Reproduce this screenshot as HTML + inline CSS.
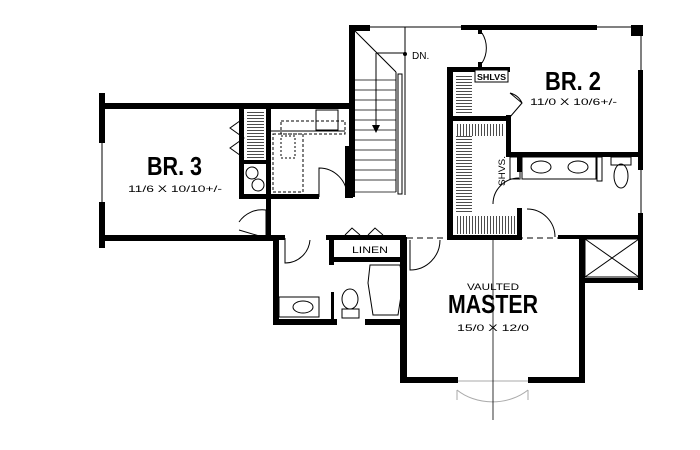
<!DOCTYPE html>
<html><head><style>html,body{margin:0;padding:0;background:#fff;}svg{display:block}</style></head>
<body>
<svg width="700" height="450" viewBox="0 0 700 450" xmlns="http://www.w3.org/2000/svg" font-family="Liberation Sans, sans-serif">
<defs>
<pattern id="hh" width="4" height="3" patternUnits="userSpaceOnUse"><line x1="0" y1="1.5" x2="4" y2="1.5" stroke="#000" stroke-width="0.7"/></pattern>
<pattern id="hv" width="3" height="4" patternUnits="userSpaceOnUse"><line x1="1.5" y1="0" x2="1.5" y2="4" stroke="#000" stroke-width="0.7"/></pattern>
</defs>
<!-- closet hatching -->
<rect x="247" y="112" width="17" height="47" fill="url(#hh)"/>
<rect x="456" y="75" width="16" height="40" fill="url(#hh)"/>
<rect x="456" y="124" width="48" height="12" fill="url(#hv)"/>
<rect x="456" y="136" width="16" height="78" fill="url(#hh)"/>
<rect x="456" y="216" width="60" height="18" fill="url(#hv)"/>
<g fill="#000">
<!-- BR3 -->
<rect x="99" y="93" width="6" height="50"/>
<rect x="99" y="202" width="6" height="46"/>
<rect x="99" y="103" width="256" height="6"/>
<rect x="99" y="235" width="175" height="6"/>
<!-- closet / laundry -->
<rect x="239" y="109" width="5" height="90"/>
<rect x="266" y="109" width="5" height="131"/>
<rect x="239" y="160" width="30" height="4"/>
<rect x="239" y="194" width="80" height="5"/>
<rect x="345" y="146" width="8" height="52"/>
<!-- stair -->
<rect x="349" y="25" width="6" height="172"/>
<rect x="349" y="25" width="21" height="6"/>
<!-- top right -->
<rect x="461" y="25" width="136" height="5"/>
<rect x="631" y="25" width="12" height="11"/>
<rect x="638" y="70" width="5" height="100"/>
<rect x="638" y="213" width="5" height="77"/>
<rect x="478" y="30" width="4" height="4"/>
<rect x="478" y="62" width="4" height="6"/>
<!-- closet BR2 -->
<rect x="447" y="67" width="6" height="173"/>
<rect x="447" y="67" width="63" height="5"/>
<rect x="447" y="116" width="63" height="5"/>
<rect x="506" y="115" width="5" height="42"/>
<rect x="506" y="152" width="137" height="5"/>
<rect x="517" y="155" width="5" height="17"/>
<rect x="517" y="208" width="5" height="32"/>
<rect x="447" y="235" width="75" height="5"/>
<rect x="558" y="235" width="82" height="4"/>
<!-- master -->
<rect x="400" y="237" width="7" height="146"/>
<rect x="400" y="377" width="58" height="6"/>
<rect x="528" y="377" width="57" height="6"/>
<rect x="579" y="237" width="6" height="146"/>
<rect x="585" y="278" width="58" height="5"/>
<!-- hall bath -->
<rect x="273" y="235" width="6" height="90"/>
<rect x="273" y="235" width="12" height="5"/>
<rect x="326" y="235" width="80" height="5"/>
<rect x="329" y="235" width="5" height="30"/>
<rect x="329" y="257" width="76" height="5"/>
<rect x="273" y="319" width="64" height="6"/>
<rect x="365" y="319" width="41" height="6"/>
<rect x="331" y="292" width="3" height="28"/>
</g>
<g fill="none" stroke="#000" stroke-width="1">
<line x1="102" y1="143" x2="102" y2="202"/>
<line x1="370" y1="27" x2="640" y2="27"/>
<line x1="641" y1="36" x2="641" y2="70"/>
<line x1="641" y1="170" x2="641" y2="213"/>
<line x1="458" y1="381" x2="528" y2="381" stroke="#aaa"/>
<line x1="355" y1="31" x2="396" y2="72"/>
<line x1="376" y1="53" x2="405" y2="53"/>
<line x1="405" y1="27" x2="405" y2="195"/>
<line x1="396" y1="72" x2="396" y2="192"/>
<line x1="376" y1="53" x2="376" y2="130"/>
<g stroke-width="0.8">
<line x1="355" y1="80" x2="396" y2="80"/><line x1="355" y1="90" x2="396" y2="90"/>
<line x1="355" y1="100" x2="396" y2="100"/><line x1="355" y1="110" x2="396" y2="110"/>
<line x1="355" y1="120" x2="396" y2="120"/><line x1="355" y1="130" x2="396" y2="130"/>
<line x1="355" y1="140" x2="396" y2="140"/><line x1="355" y1="150" x2="396" y2="150"/>
<line x1="355" y1="160" x2="396" y2="160"/><line x1="355" y1="170" x2="396" y2="170"/>
<line x1="355" y1="180" x2="396" y2="180"/><line x1="355" y1="192" x2="396" y2="192"/>
</g>
<rect x="398" y="74" width="4" height="120"/>
<rect x="281" y="121" width="64" height="13" stroke-dasharray="3,2"/>
<rect x="316" y="110" width="22" height="20"/>
<rect x="273" y="134" width="30" height="58" stroke-dasharray="3,2"/>
<rect x="281" y="136" width="14" height="22" stroke-dasharray="2,2"/>
<line x1="271" y1="131" x2="345" y2="131"/>
<circle cx="252" cy="173" r="6"/><circle cx="258" cy="185" r="6"/>
<path d="M244 118 L230 128 L244 138 L230 148 L244 158"/>
<path d="M319 197 L319 168 A28 28 0 0 1 347 196"/>
<path d="M266 210 A28 28 0 0 0 239 222 M266 210 L266 238 L239 230"/>
<path d="M285 238 L285 263 A25 25 0 0 0 310 240"/>
<path d="M345 235 L352 228 L360 235 M368 235 L375 228 L383 235"/>
<path d="M410 240 L410 270 A30 30 0 0 0 440 240"/>
<path d="M482 33 A28 28 0 0 1 482 63"/>
<path d="M510 93 L522 103 L510 117 M510 93 A18 18 0 0 1 522 103"/>
<path d="M493 204 A26 26 0 0 1 519 178"/>
<path d="M527 209 A28 28 0 0 1 555 237"/>
<path d="M457 390 A50 40 0 0 0 528 390" stroke="#aaa"/>
<line x1="457" y1="390" x2="457" y2="400" stroke="#aaa"/>
<line x1="528" y1="390" x2="528" y2="400" stroke="#aaa"/>
<line x1="493" y1="240" x2="493" y2="420" stroke-width="0.8"/>
<line x1="407" y1="238" x2="580" y2="238" stroke-dasharray="6,4"/>
<rect x="475" y="70" width="33" height="12" fill="#fff"/>
<rect x="510" y="157" width="10" height="22"/>
<rect x="522" y="157" width="74" height="22"/>
<rect x="597" y="157" width="5" height="24"/>
<ellipse cx="541" cy="167" rx="10" ry="6"/><ellipse cx="578" cy="167" rx="10" ry="6"/>
<rect x="611" y="157" width="20" height="8"/><ellipse cx="621" cy="176" rx="7" ry="12"/>
<rect x="585" y="239" width="54" height="38"/>
<line x1="585" y1="239" x2="639" y2="277"/><line x1="639" y1="239" x2="585" y2="277"/>
<rect x="279" y="297" width="40" height="20"/>
<ellipse cx="303" cy="307" rx="10" ry="6"/>
<ellipse cx="350" cy="299" rx="8" ry="10"/><rect x="342" y="309" width="17" height="9"/>
<path d="M370 265 L400 265 L403 283 L398 315 L373 315 L368 283 Z"/>
</g>
<g fill="#000">
<path d="M372 125 L380 125 L376 133 Z"/>
<circle cx="405" cy="54" r="2"/>
<text x="412" y="59" font-size="10">DN.</text>
<text x="147" y="175" font-size="26" font-weight="bold" textLength="55" lengthAdjust="spacingAndGlyphs">BR. 3</text>
<text x="128" y="192" font-size="9.5" textLength="94" lengthAdjust="spacingAndGlyphs">11/6 X 10/10+/-</text>
<text x="545" y="90" font-size="26" font-weight="bold" textLength="56" lengthAdjust="spacingAndGlyphs">BR. 2</text>
<text x="530" y="105" font-size="9.5" textLength="87" lengthAdjust="spacingAndGlyphs">11/0 X 10/6+/-</text>
<text x="477" y="80" font-size="8" font-weight="bold" textLength="29" lengthAdjust="spacingAndGlyphs">SHLVS</text>
<text transform="translate(505,186) rotate(-90)" font-size="9" textLength="30" lengthAdjust="spacingAndGlyphs">SHVS.</text>
<text x="352" y="253" font-size="9" textLength="36" lengthAdjust="spacingAndGlyphs">LINEN</text>
<text x="467" y="290" font-size="9" textLength="52" lengthAdjust="spacingAndGlyphs">VAULTED</text>
<text x="448" y="313" font-size="26" font-weight="bold" textLength="90" lengthAdjust="spacingAndGlyphs">MASTER</text>
<text x="457" y="331" font-size="9.5" textLength="72" lengthAdjust="spacingAndGlyphs">15/0 X 12/0</text>
</g>
</svg>
</body></html>
